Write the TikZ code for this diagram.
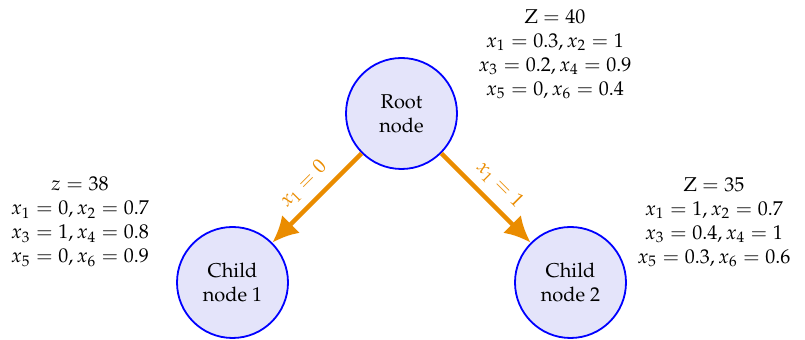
\documentclass[tikz,border=0pt]{standalone}
\usepackage[T1]{fontenc}
\usepackage{mathpazo}
\usetikzlibrary{arrows.meta}
\definecolor{branch}{RGB}{234,140,0}
\definecolor{nodefill}{RGB}{228,228,250}
\begin{document}
\begin{tikzpicture}[x=0.5pt,y=-0.5pt,
  treenode/.style={circle,draw=blue,line width=0.9pt,fill=nodefill,
    minimum size=55.5pt,inner sep=0pt,align=center},
  info/.style={align=center,inner sep=0pt},
  branchedge/.style={draw=branch,line width=2.2pt,
    -{Latex[length=13pt,width=12.5pt]}},
  branchlabel/.style={text=branch,sloped,above,midway,inner sep=4pt}]
\useasboundingbox (0,0) rectangle (805,340);

\node[treenode] (root) at (401.5,113.5) {Root\\node};
\node[treenode] (c1) at (232.5,282.5) {Child\\node 1};
\node[treenode] (c2) at (570.5,282.5) {Child\\node 2};

\node[info] (iroot) at (555,54) {Z $=40$\\$x_1=0.3, x_2=1$\\$x_3=0.2, x_4=0.9$\\$x_5=0, x_6=0.4$};
\node[info] (ic1) at (80,222) {$z=38$\\$x_1=0, x_2=0.7$\\$x_3=1, x_4=0.8$\\$x_5=0, x_6=0.9$};
\node[info] (ic2) at (714,222) {Z $=35$\\$x_1=1, x_2=0.7$\\$x_3=0.4, x_4=1$\\$x_5=0.3, x_6=0.6$};

\draw[branchedge] (root) -- node[branchlabel] {$x_1=0$} (c1);
\draw[branchedge] (root) -- node[branchlabel] {$x_1=1$} (c2);
\end{tikzpicture}
\end{document}
